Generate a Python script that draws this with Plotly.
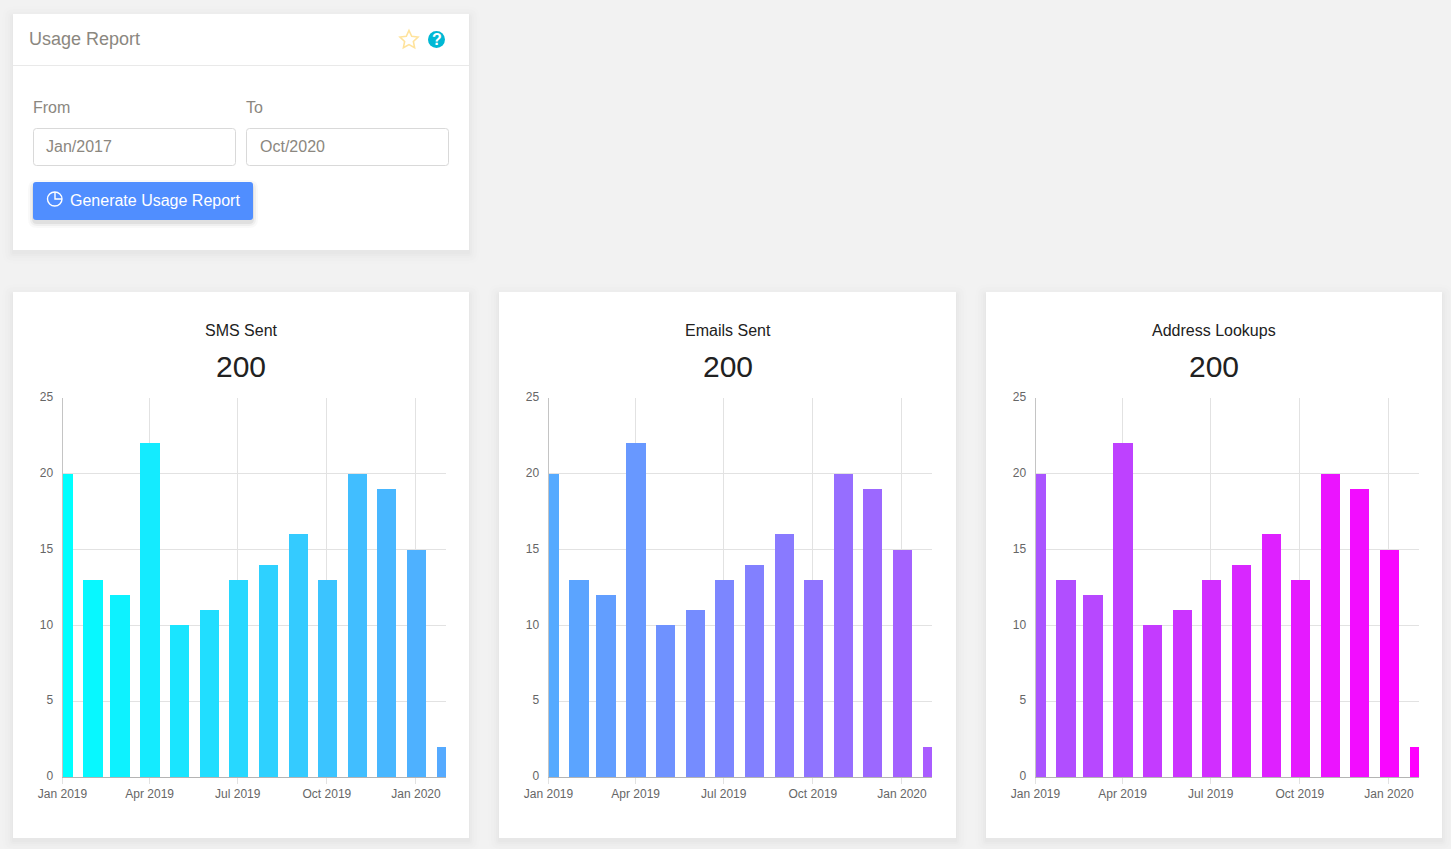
import math
import plotly.graph_objects as go

W, H = 1451, 849

months = ["2019-01-01", "2019-02-01", "2019-03-01", "2019-04-01", "2019-05-01", "2019-06-01", "2019-07-01",
          "2019-08-01", "2019-09-01", "2019-10-01", "2019-11-01", "2019-12-01", "2020-01-01", "2020-02-01"]
sms_sent = [20, 13, 12, 22, 10, 11, 13, 14, 16, 13, 20, 19, 15, 2]
emails_sent = [20, 13, 12, 22, 10, 11, 13, 14, 16, 13, 20, 19, 15, 2]
address_lookups = [20, 13, 12, 22, 10, 11, 13, 14, 16, 13, 20, 19, 15, 2]
chart_titles = ["SMS Sent", "Emails Sent", "Address Lookups"]
chart_totals = ["200", "200", "200"]
y_ticks = [0, 5, 10, 15, 20, 25]

BAR_MS = 20 * 24 * 3600 * 1000
GRID = "#e2e2e2"
AXIS = "#c4c4c4"
TICK = "#666666"
MUTED = "#8b8780"
FONT = "Liberation Sans"


def px(x):
    return x / W


def py(y):
    return 1 - y / H


def rrect(x0, y0, x1, y1, r=0):
    X0, X1, Y0, Y1 = px(x0), px(x1), py(y0), py(y1)
    if r == 0:
        return f"M{X0},{Y0} L{X1},{Y0} L{X1},{Y1} L{X0},{Y1} Z"
    rx, ry = r / W, r / H
    return (f"M{X0+rx},{Y0} L{X1-rx},{Y0} Q{X1},{Y0} {X1},{Y0-ry} L{X1},{Y1+ry} Q{X1},{Y1} {X1-rx},{Y1} "
            f"L{X0+rx},{Y1} Q{X0},{Y1} {X0},{Y1+ry} L{X0},{Y0-ry} Q{X0},{Y0} {X0+rx},{Y0} Z")


shapes = []


def box(x0, y0, x1, y1, fill, line=None, r=0, lw=1, opacity=1):
    shapes.append(dict(type="path", path=rrect(x0, y0, x1, y1, r), xref="paper", yref="paper",
                       fillcolor=fill, opacity=opacity, layer="below",
                       line=dict(color=line or "rgba(0,0,0,0)", width=lw if line else 0)))


def card(x0, y0, x1, y1):
    for g, a in [(11, 0.005), (8, 0.006), (5, 0.008), (3, 0.010), (1, 0.012)]:
        box(x0 - g, y0 - g + 3, x1 + g, y1 + g + 3, f"rgba(0,0,0,{a})", r=g)
    box(x0, y0, x1, y1, "#ffffff")


annotations = []


def text(x, y, s, size, color, anchor="left", bold=False):
    annotations.append(dict(x=px(x), y=py(y), xref="paper", yref="paper", text=f"<b>{s}</b>" if bold else s,
                            showarrow=False, xanchor=anchor, yanchor="middle",
                            font=dict(family=FONT, size=size, color=color), borderpad=0, borderwidth=0))


# --- form card ---
card(13, 14, 469, 250)
shapes.append(dict(type="line", xref="paper", yref="paper", x0=px(13), x1=px(469), y0=py(65.5), y1=py(65.5),
                   line=dict(color="#e9e9e9", width=1), layer="below"))
text(29, 39, "Usage Report", 18, MUTED)
text(33, 107, "From", 16, MUTED)
text(246.5, 107, "To", 16, MUTED)
box(33.5, 128.5, 235.5, 165.5, "#ffffff", "#d9d9d9", r=3)
box(246.5, 128.5, 448.5, 165.5, "#ffffff", "#d9d9d9", r=3)
text(46, 146, "Jan/2017", 16, MUTED)
text(259.5, 146, "Oct/2020", 16, MUTED)
for g, a in [(5, 0.025), (3, 0.04), (1, 0.06)]:
    box(33 - g, 182 - g + 3, 253 + g, 220 + g + 3, f"rgba(0,0,0,{a})", r=4 + g)
box(33, 182, 253, 220, "#508eff", r=3)
text(70, 200, "Generate Usage Report", 16, "#ffffff")

# star icon
cx, cy = 409, 40
pts = []
for i in range(10):
    rad = 9.5 if i % 2 == 0 else 4.6
    ang = -math.pi / 2 + i * math.pi / 5
    pts.append((px(cx + rad * math.cos(ang)), py(cy + rad * math.sin(ang))))
shapes.append(dict(type="path", xref="paper", yref="paper", layer="above",
                   path="M" + " L".join(f"{a},{b}" for a, b in pts) + " Z",
                   fillcolor="rgba(0,0,0,0)", line=dict(color="#ffe39c", width=1.6)))
# help icon
shapes.append(dict(type="circle", xref="paper", yref="paper", x0=px(428), x1=px(445), y0=py(48), y1=py(31),
                   fillcolor="#00b8d4", line=dict(width=0), layer="below"))
text(436.5, 39.5, "?", 16, "#ffffff", anchor="center", bold=True)
# chart-pie icon in the button
shapes.append(dict(type="circle", xref="paper", yref="paper", x0=px(47.5), x1=px(62), y0=py(206), y1=py(192),
                   fillcolor="rgba(0,0,0,0)", line=dict(color="#ffffff", width=1.4), layer="above"))
shapes.append(dict(type="path", xref="paper", yref="paper", layer="above",
                   path=f"M{px(55)},{py(192)} L{px(55)},{py(199)} L{px(62)},{py(199)}",
                   fillcolor="rgba(0,0,0,0)", line=dict(color="#ffffff", width=1.4)))

# --- chart cards ---
cards = [(13, 469), (499, 956), (986, 1442)]
plots = [(62.5, 446), (548.5, 932), (1035.5, 1419)]
series = [sms_sent, emails_sent, address_lookups]
gradients = [("#00ffff", "#55aaff"), ("#55aaff", "#a95cff"), ("#aa55ff", "#ff00ff")]

fig = go.Figure()
layout_axes = {}
for i, (c, p, vals, grad) in enumerate(zip(cards, plots, series, gradients)):
    card(c[0], 292, c[1], 838)
    mid = (c[0] + c[1]) / 2
    text(mid, 330, chart_titles[i], 16, "#212121", anchor="center")
    text(mid, 367, chart_totals[i], 30, "#212121", anchor="center")
    n = "" if i == 0 else str(i + 1)
    fig.add_trace(go.Bar(x=months, y=vals, width=BAR_MS, xaxis=f"x{n}", yaxis=f"y{n}", showlegend=False,
                         marker=dict(color=list(range(len(vals))), colorscale=[[0, grad[0]], [1, grad[1]]],
                                     showscale=False, line=dict(width=0))))
    layout_axes[f"xaxis{n}"] = dict(
        type="date", domain=[px(p[0]), px(p[1])], range=["2019-01-01", "2020-02-01"], anchor=f"y{n}",
        dtick="M3", tick0="2019-01-01", tickformat="%b %Y", ticks="outside", ticklen=6, tickcolor=GRID,
        showgrid=True, gridcolor=GRID, gridwidth=1, showline=True, linecolor="#b4b4b4", linewidth=1,
        zeroline=False, automargin=False, tickfont=dict(family=FONT, size=12, color=TICK))
    layout_axes[f"yaxis{n}"] = dict(
        domain=[py(777), py(398)], range=[0, 25], anchor=f"x{n}", tickvals=y_ticks, ticks="",
        showgrid=True, gridcolor=GRID, gridwidth=1, showline=True, linecolor=AXIS, linewidth=1,
        zeroline=False, automargin=False, tickfont=dict(family=FONT, size=12, color=TICK),
        ticklabelshift=-1, ticklabelstandoff=6)

fig.update_layout(width=W, height=H, autosize=False, margin=dict(l=0, r=0, t=0, b=0, pad=0, autoexpand=False),
                  paper_bgcolor="#f2f2f2", plot_bgcolor="rgba(0,0,0,0)", bargap=0,
                  shapes=shapes, annotations=annotations, font=dict(family=FONT), **layout_axes)

fig.write_html("out.html", config={"displayModeBar": False},
               post_script="document.body.style.margin='0';document.body.style.overflow='hidden';document.body.style.background='#f2f2f2';")
